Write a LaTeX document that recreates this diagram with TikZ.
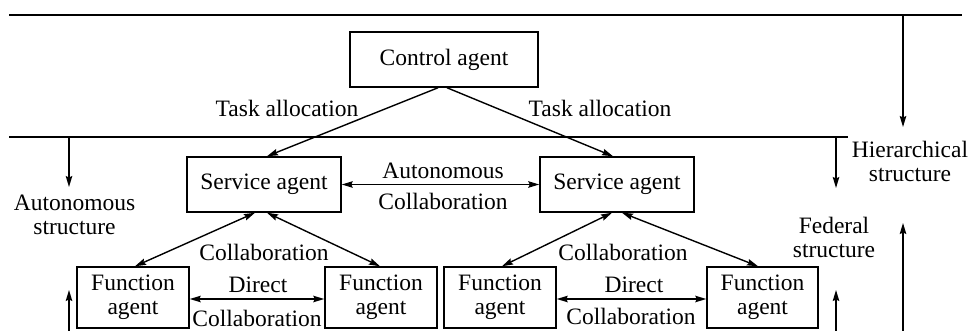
\documentclass[tikz,border=0pt]{standalone}
\usepackage{fontspec}
\setmainfont{Liberation Serif}
\usetikzlibrary{arrows.meta}
\begin{document}
\begin{tikzpicture}[x=1pt,y=-1pt,
  every node/.style={font=\fontsize{23.5}{24}\selectfont, inner sep=0pt},
  agentbox/.style={draw, line width=1.5pt, align=center},
  tip/.tip={Stealth[length=11pt,width=6.5pt,inset=1.5pt]},
  link/.style={line width=1.4pt, -tip},
  twoway/.style={line width=1.4pt, tip-tip},
  rule/.style={line width=1.5pt},
  lbl/.style={align=center}]
\useasboundingbox (0,0) rectangle (971,331);

% level separators
\coordinate (t0) at (9,15);
\coordinate (t1) at (962,15);
\coordinate (m0) at (9,137);
\coordinate (m1) at (848,137);
\draw[rule] (t0) -- (t1);
\draw[rule] (m0) -- (m1);

% agents
\node[agentbox, minimum width=188pt, minimum height=55pt] (ctrl) at (444,59.5) {Control agent};
\node[agentbox, minimum width=154pt, minimum height=55pt] (svcL) at (264,184.5) {Service agent};
\node[agentbox, minimum width=154pt, minimum height=55pt] (svcR) at (617,184.5) {Service agent};
\node[agentbox, minimum width=112pt, minimum height=61pt] (fnA) at (133,297.5) {Function\\agent};
\node[agentbox, minimum width=112pt, minimum height=61pt] (fnB) at (381,297.5) {Function\\agent};
\node[agentbox, minimum width=112pt, minimum height=61pt] (fnC) at (500,297.5) {Function\\agent};
\node[agentbox, minimum width=111pt, minimum height=61pt] (fnD) at (762.5,297.5) {Function\\agent};

% task allocation
\draw[link] ([xshift=-6pt]ctrl.south) -- ([xshift=3pt]svcL.north);
\draw[link] ([xshift=3pt]ctrl.south) -- ([xshift=-4pt]svcR.north);
\node[lbl] (taL) at (287,108) {Task allocation};
\node[lbl] (taR) at (600,108) {Task allocation};

% autonomous collaboration between service agents
\draw[twoway] (svcL.east) -- (svcR.west);
\node[lbl] (acA) at (443,171) {Autonomous};
\node[lbl] (acB) at (443,201) {Collaboration};

% collaboration between service and function agents
\draw[twoway] ([xshift=-9pt]svcL.south) -- ([xshift=2pt]fnA.north);
\draw[twoway] ([xshift=3pt]svcL.south) -- ([xshift=-1pt]fnB.north);
\draw[twoway] ([xshift=-5pt]svcR.south) -- ([xshift=2pt]fnC.north);
\draw[twoway] ([xshift=5pt]svcR.south) -- ([xshift=-4.5pt]fnD.north);
\node[lbl] (coL) at (264,252) {Collaboration};
\node[lbl] (coR) at (623,252) {Collaboration};

% direct collaboration between function agents
\draw[twoway] ([yshift=-1.5pt]fnA.east) -- ([yshift=-1.5pt]fnB.west);
\draw[twoway] ([yshift=-1.5pt]fnC.east) -- ([yshift=-1.5pt]fnD.west);
\node[lbl] (dcA) at (258,285) {Direct};
\node[lbl] (dcB) at (257,318) {Collaboration};
\node[lbl] (dcC) at (634,285) {Direct};
\node[lbl] (dcD) at (631,316) {Collaboration};

% structure indicators
\coordinate (hTop) at (903,15);
\coordinate (hEnd) at (903,127);
\draw[link] (hTop) -- (hEnd);
\node[lbl] (hier) at (910,161) {Hierarchical\\structure};

\coordinate (aTop) at (69,137);
\coordinate (aEnd) at (69,187);
\draw[link] (aTop) -- (aEnd);
\coordinate (aBot) at (69,331);
\coordinate (aUp) at (69,290);
\draw[link] (aBot) -- (aUp);
\node[lbl] (auto) at (74.5,215) {Autonomous\\structure};

\coordinate (fTop) at (836,137);
\coordinate (fEnd) at (836,188);
\draw[link] (fTop) -- (fEnd);
\coordinate (fBot) at (836,331);
\coordinate (fUp) at (836,290);
\draw[link] (fBot) -- (fUp);
\node[lbl] (fed) at (834,237.5) {Federal\\structure};

\coordinate (hBot) at (903,331);
\coordinate (hUp) at (903,223);
\draw[link] (hBot) -- (hUp);
\end{tikzpicture}
\end{document}
